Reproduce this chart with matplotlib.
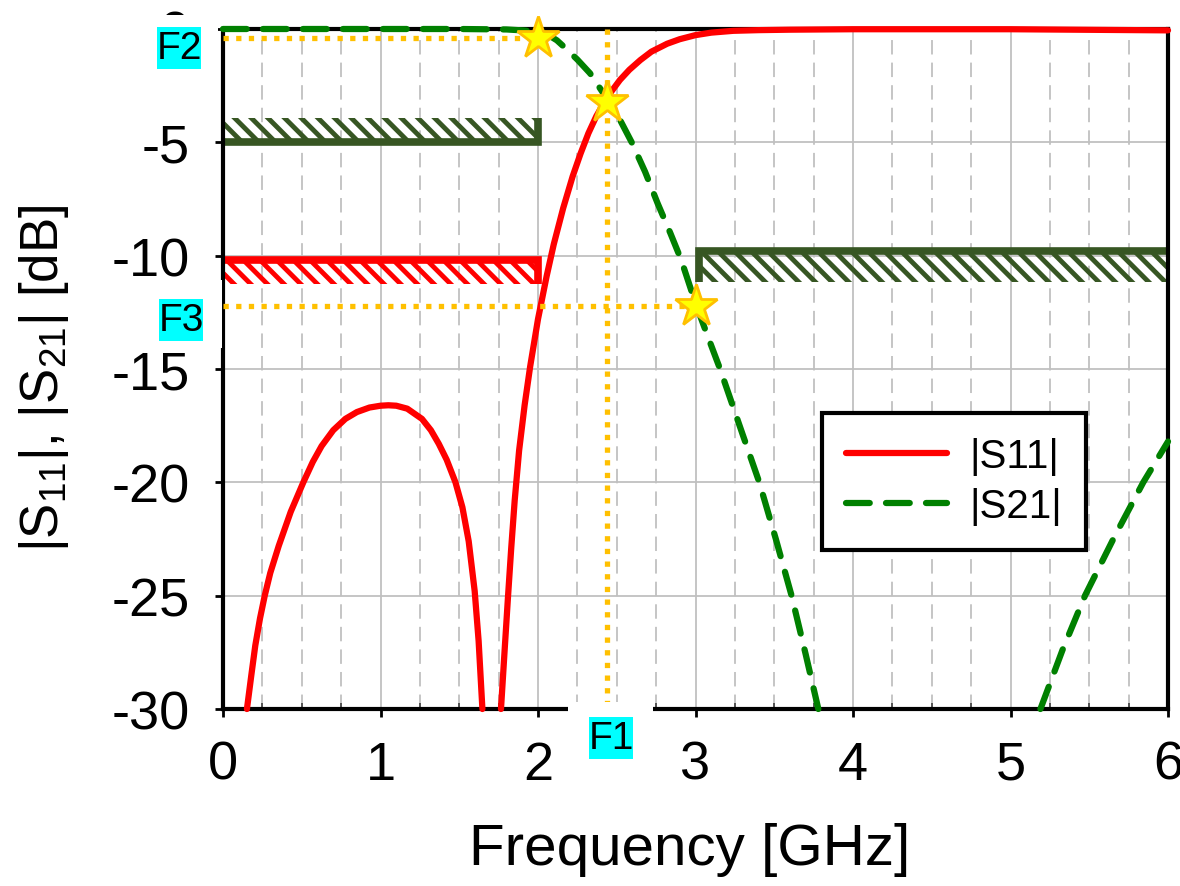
import numpy as np
import matplotlib
matplotlib.use('Agg')
import matplotlib.pyplot as plt
from matplotlib.patches import Rectangle
from matplotlib.ticker import MultipleLocator

plt.rcParams['font.family'] = ['Liberation Sans', 'DejaVu Sans']
plt.rcParams['mathtext.fontset'] = 'custom'
plt.rcParams['mathtext.rm'] = 'Liberation Sans'
plt.rcParams['mathtext.it'] = 'Liberation Sans'
plt.rcParams['axes.unicode_minus'] = False
plt.rcParams['hatch.linewidth'] = 3.5

nan = np.nan

# |S11| (GHz, dB); nan breaks the line at the deep null
freq_s11 = [0.152, 0.18, 0.205, 0.235, 0.265, 0.30, 0.354, 0.43, 0.51, 0.57, 0.626, 0.70, 0.777,
            0.85, 0.93, 1.00, 1.05, 1.10, 1.17, 1.263, 1.32, 1.37, 1.42, 1.476, 1.52, 1.56, 1.598,
            1.623, 1.647, nan,
            1.765, 1.79, 1.81, 1.83, 1.852, 1.88, 1.915, 1.95, 2.00, 2.055, 2.10, 2.16, 2.22, 2.27,
            2.32, 2.37, 2.44, 2.52, 2.58, 2.65, 2.72, 2.82, 2.90, 3.00, 3.10, 3.24, 3.40,
            3.60, 4.00, 5.00, 6.00]
s11_db = [-30, -28.5, -27.2, -26.0, -25.0, -24.0, -22.8, -21.3, -20.0, -19.1, -18.4, -17.7, -17.2,
          -16.9, -16.7, -16.62, -16.6, -16.62, -16.75, -17.2, -17.7, -18.3, -19.0, -20.0, -21.1, -22.6,
          -24.8, -27.0, -30, nan,
          -30, -27.2, -25.0, -22.9, -20.8, -18.6, -16.6, -14.9, -12.8, -10.9, -9.5, -7.9, -6.5, -5.5,
          -4.6, -3.85, -3.0, -2.25, -1.8, -1.37, -1.0, -0.65, -0.45, -0.27, -0.16, -0.08, -0.05,
          -0.03, -0.01, -0.01, -0.06]

# |S21|
freq_s21 = [0, 0.5, 1.0, 1.5, 1.8, 1.9, 2.0, 2.055, 2.12, 2.18, 2.25, 2.33, 2.44, 2.52,
            2.595, 2.68, 2.76, 2.84, 2.91, 3.0, 3.08, 3.156, 3.28, 3.405, 3.51, 3.61, 3.70, 3.78, nan,
            5.19, 5.33, 5.473, 5.66, 5.843, 6.0]
s21_db = [0, 0, 0, 0, -0.02, -0.06, -0.12, -0.22, -0.5, -0.88, -1.35, -1.95, -3.1, -4.0,
          -5.0, -6.3, -7.7, -9.0, -10.2, -12.1, -13.6, -15.0, -17.5, -20.0, -22.5, -25.0, -27.6, -30, nan,
          -30, -27.4, -25.0, -22.4, -20.0, -18.2]

# spec masks: [x start, x end], [line level, far edge of the hatched band]
s21_pass_x = [0, 2.0]
s21_pass_level = [-5.0, -3.93]
s11_pass_x = [0, 2.0]
s11_pass_level = [-10.2, -11.25]
s21_stop_x = [3.02, 6.0]
s21_stop_level = [-9.8, -11.15]

# marked points F1, F2, F3
mark_freq = [2.0, 2.44, 3.0]
mark_db = [-0.4, -3.2, -12.2]

red = '#FF0000'
green = '#008000'
olive = '#375623'
gold = '#FFC000'

W, H = 1180, 887
fig = plt.figure(figsize=(W / 100, H / 100), dpi=100)
ax = fig.add_axes([223 / W, 1 - 710 / H, 945 / W, 680 / H])


def mask(xs, levels, color, closed_end):
    x0, x1 = xs
    y_line, y_edge = levels
    ax.add_patch(Rectangle((x0, min(y_line, y_edge)), x1 - x0, abs(y_edge - y_line),
                           facecolor='none', edgecolor=color, hatch='\\\\', linewidth=0, zorder=1.5))
    if closed_end == 'right':
        ax.plot([x0, x1, x1], [y_line, y_line, y_edge], color=color, lw=5.5,
                solid_joinstyle='miter', solid_capstyle='butt', zorder=1.6)
    else:
        ax.plot([x1, x0, x0], [y_line, y_line, y_edge], color=color, lw=5.5,
                solid_joinstyle='miter', solid_capstyle='butt', zorder=1.6)


mask(s21_pass_x, s21_pass_level, olive, 'right')
mask(s11_pass_x, s11_pass_level, red, 'right')
mask(s21_stop_x, s21_stop_level, olive, 'left')

ax.plot(freq_s11, s11_db, color=red, lw=4.5, solid_capstyle='round', solid_joinstyle='round',
        label='|S11|', zorder=3, clip_on=False)
ax.plot(freq_s21, s21_db, color=green, lw=4.5, ls=(0, (3.8, 2.6)), dash_capstyle='round',
        label='|S21|', zorder=3, clip_on=False)

# dotted guide lines to the marked points
dot = dict(color=gold, lw=3.8, ls=(0, (1, 1.4)), zorder=4)
ax.plot([mark_freq[1], mark_freq[1]], [0, -30], **dot)
ax.plot([0, mark_freq[0]], [mark_db[0], mark_db[0]], **dot)
ax.plot([0, mark_freq[2]], [mark_db[2], mark_db[2]], **dot)

ax.plot(mark_freq, mark_db, ls='none', marker='*', ms=32, mfc='#FFFF00', mec=gold, mew=2,
        zorder=6, clip_on=False)

ax.set_xlim(0, 6)
ax.set_ylim(-30, 0)
ax.set_xticks(range(0, 7))
ax.set_yticks(range(-30, 1, 5))
ax.xaxis.set_minor_locator(MultipleLocator(0.25))
ax.tick_params(which='major', direction='out', length=6, width=2, labelsize=39)
ax.tick_params(axis='x', which='major', pad=16)
ax.tick_params(axis='y', which='major', pad=18)
ax.tick_params(axis='x', which='minor', direction='in', length=4, width=1.2, color='#404040')
ax.tick_params(axis='y', which='minor', left=False)
for s in ax.spines.values():
    s.set_linewidth(3)

ax.set_axisbelow(True)
ax.grid(which='major', color='#C0C0C0', lw=1.3)
ax.grid(which='minor', axis='x', color='#C0C0C0', lw=1.3, ls=(0, (8, 4.5)))

leg = ax.legend(loc='upper left', bbox_to_anchor=(0.634, 0.435), borderaxespad=0, fontsize=29,
                fancybox=False, edgecolor='black', framealpha=1, handlelength=2.5,
                handletextpad=0.55, labelspacing=0.3, borderpad=0.6)
leg.get_frame().set_linewidth(3)

fig.text(690 / W, 1 - 850 / H, 'Frequency [GHz]', fontsize=42, ha='center', va='center')
fig.text(44 / W, 1 - 378 / H, r'|S$_{11}$|, |S$_{21}$| [dB]', fontsize=38,
         rotation=90, ha='center', va='center')

# F labels: white cut-out, cyan tag, text  (pixel boxes: x0, y0, x1, y1)
tags = [('F2', (140, 16, 218, 82), (157, 28, 201, 70)),
        ('F3', (140, 281, 222, 349), (159, 300, 203, 342)),
        ('F1', (568, 703, 653, 778), (589, 718, 633, 760))]
for name, wbox, cbox in tags:
    for (x0, y0, x1, y1), fc, z in [(wbox, 'white', 10), (cbox, '#00FFFF', 11)]:
        fig.add_artist(Rectangle((x0 / W, 1 - y1 / H), (x1 - x0) / W, (y1 - y0) / H,
                                 transform=fig.transFigure, facecolor=fc, edgecolor='none', zorder=z))
    cx, cy = (cbox[0] + cbox[2]) / 2, (cbox[1] + cbox[3]) / 2
    fig.text(cx / W, 1 - cy / H, name, fontsize=28, ha='center', va='center', zorder=12)

fig.savefig('out.png', dpi=100)
